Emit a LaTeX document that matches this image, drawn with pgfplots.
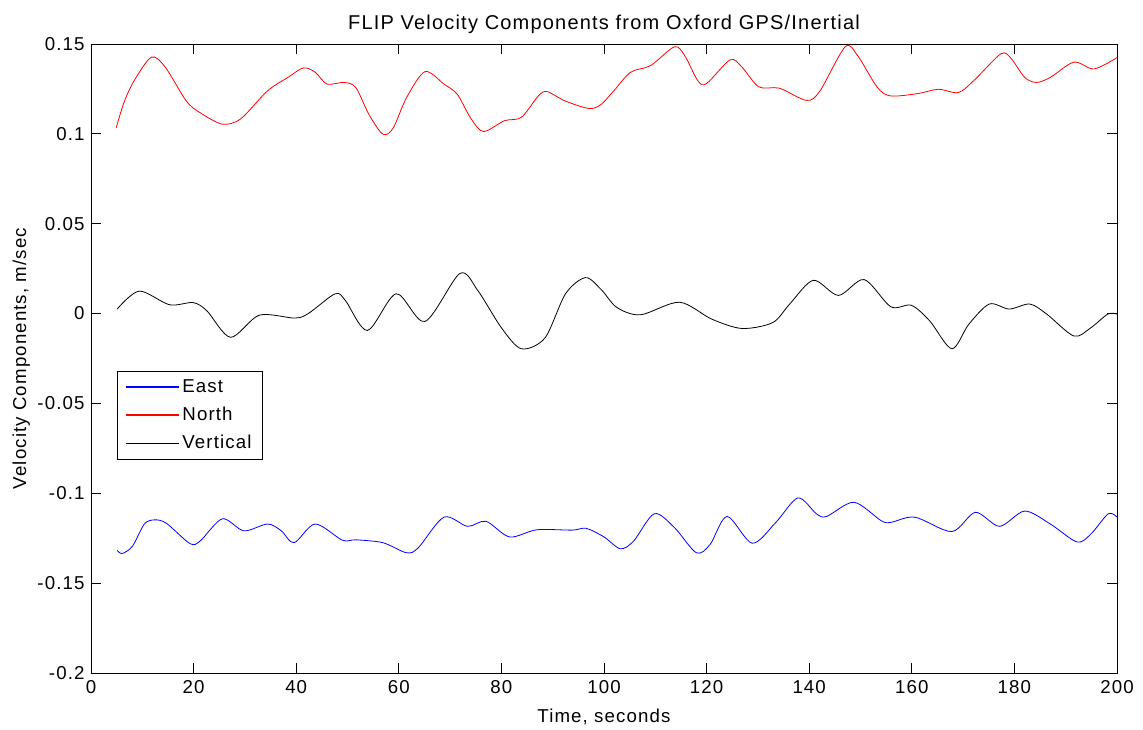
\documentclass[border=0pt]{standalone}
\usepackage{fontspec}
\setmainfont[LetterSpace=6]{Liberation Sans}
\usepackage{pgfplots}
\pgfplotsset{compat=1.18}
\begin{document}
\begin{tikzpicture}
\fontsize{14}{16}\selectfont
\useasboundingbox (0,0) rectangle (857.25pt,547.5pt);
\begin{axis}[
  at={(68.25pt,42.75pt)}, anchor=south west,
  width=769.5pt, height=471.75pt, scale only axis,
  xmin=0, xmax=200, ymin=-0.2, ymax=0.15,
  xtick={0,20,...,200},
  ytick={-0.2,-0.15,-0.1,-0.05,0,0.05,0.1,0.15},
  yticklabels={-0.2,-0.15,-0.1,-0.05,0,0.05,0.1,0.15},
  /pgf/number format/assume math mode=true,
  tick align=inside, major tick length=7.5pt,
  tick style={black, line width=0.6pt},
  axis line style={black, line width=0.6pt},
  ticklabel style={font=\fontsize{14}{16}\selectfont},
  xticklabel style={yshift=-1pt},
  title={FLIP Velocity Components from Oxford GPS/Inertial},
  title style={font=\fontsize{15}{17}\selectfont, yshift=-3pt},
  label style={font=\fontsize{14}{16}\selectfont},
  xlabel={Time, seconds}, ylabel={Velocity Components, m/sec},
  xlabel style={yshift=-2pt}, ylabel style={yshift=-4pt},
  legend style={at={(0.0253,0.48)}, anchor=north west, draw=black, line width=0.6pt,
    font=\fontsize{14}{16}\selectfont, row sep=5pt, inner xsep=6pt, inner ysep=4pt},
  legend cell align=left,
  legend image code/.code={\draw[#1, line width=0.8pt] (0pt,0.2pt) -- (40pt,0.2pt);},
]
\addplot[color=blue, line width=0.6pt, smooth, tension=0.5] coordinates {
(5.1,-0.1318)(6.1,-0.1335)(8.1,-0.1294)(10.4,-0.1171)(12.4,-0.1148)(14.7,-0.1167)
(19.3,-0.1280)(21.3,-0.1265)(25.6,-0.1142)(29.8,-0.1209)(34.4,-0.1171)(37.1,-0.1209)
(39.6,-0.1275)(43.7,-0.1171)(49.0,-0.1261)(51.6,-0.1259)(56.9,-0.1275)(61.5,-0.1331)
(63.8,-0.1303)(68.8,-0.1133)(73.4,-0.1184)(77.0,-0.1156)(81.6,-0.1243)(86.9,-0.1203)
(93.8,-0.1205)(96.5,-0.1195)(100.0,-0.1243)(103.2,-0.1309)(105.8,-0.1265)(109.8,-0.1114)
(113.7,-0.1190)(118.0,-0.1331)(120.7,-0.1284)(124.0,-0.1129)(128.9,-0.1278)(133.5,-0.1162)
(137.8,-0.1026)(141.4,-0.1114)(143.4,-0.1129)(148.7,-0.1050)(154.0,-0.1152)(155.9,-0.1162)
(160.6,-0.1133)(167.8,-0.1213)(172.4,-0.1106)(177.1,-0.1184)(182.0,-0.1099)(187.0,-0.1171)
(192.2,-0.1271)(194.9,-0.1227)(198.3,-0.1114)(200,-0.1133)
};
\addlegendentry{East}
\addplot[color=red, line width=0.6pt, smooth, tension=0.5] coordinates {
(4.9,0.1032)(6.5,0.118)(8.5,0.130)(11.8,0.1427)(14.5,0.137)(18.6,0.1182)(21.3,0.1117)
(25.6,0.1054)(29.2,0.1084)(34.4,0.1239)(38.4,0.1314)(41.4,0.1367)(43.7,0.1343)
(46.0,0.1277)(49.3,0.1286)(51.6,0.1258)(54.2,0.1107)(56.9,0.0998)(58.9,0.1032)
(61.5,0.1201)(65.1,0.1346)(68.8,0.1277)(71.4,0.1220)(74.0,0.1088)(76.5,0.1013)
(80.6,0.1073)(83.9,0.1092)(87.2,0.1211)(88.9,0.1235)(92.5,0.1182)(97.1,0.1141)
(99.4,0.1163)(101.9,0.1239)(105.2,0.1343)(109.1,0.1380)(113.7,0.1484)(115.7,0.1437)
(118.3,0.1295)(120.0,0.1280)(124.6,0.1412)(126.9,0.1371)(130.2,0.1261)(134.2,0.1254)
(139.5,0.1186)(142.1,0.1239)(147.0,0.1484)(149.4,0.1437)(153.3,0.1258)(155.9,0.1211)
(161.2,0.1224)(165.2,0.1248)(169.1,0.1230)(172.4,0.1305)(177.4,0.1446)(179.4,0.1418)
(182.0,0.1314)(184.3,0.1286)(187.0,0.1314)(191.6,0.1399)(195.5,0.1361)(200,0.1424)
};
\addlegendentry{North}
\addplot[color=black, line width=0.6pt, smooth, tension=0.5] coordinates {
(5.1,0.0025)(9.4,0.0125)(15.3,0.0049)(19.9,0.0061)(22.6,0.0015)(27.2,-0.0132)
(32.8,-0.0009)(39.7,-0.0025)(42.4,0.0001)(47.6,0.0110)(49.6,0.0072)(53.9,-0.0094)
(59.5,0.0110)(65.1,-0.0044)(71.9,0.0223)(75.4,0.0128)(80.0,-0.0079)(83.9,-0.0196)
(88.5,-0.0135)(92.5,0.0110)(96.4,0.0200)(99.5,0.0132)(102.5,0.0034)(107.1,-0.0007)
(114.7,0.0063)(121.0,-0.0031)(126.9,-0.0083)(132.9,-0.0050)(136.2,0.0053)(140.8,0.0185)
(145.7,0.0101)(150.7,0.0189)(155.9,0.0038)(159.9,0.0046)(163.5,-0.0041)(167.8,-0.0196)
(171.1,-0.0060)(175.1,0.0053)(179.0,0.0025)(183.0,0.0053)(186.3,-0.0003)(191.6,-0.0125)
(194.9,-0.0079)(198.2,-0.0003)(200,-0.0003)
};
\addlegendentry{Vertical}
\end{axis}
\end{tikzpicture}
\end{document}
